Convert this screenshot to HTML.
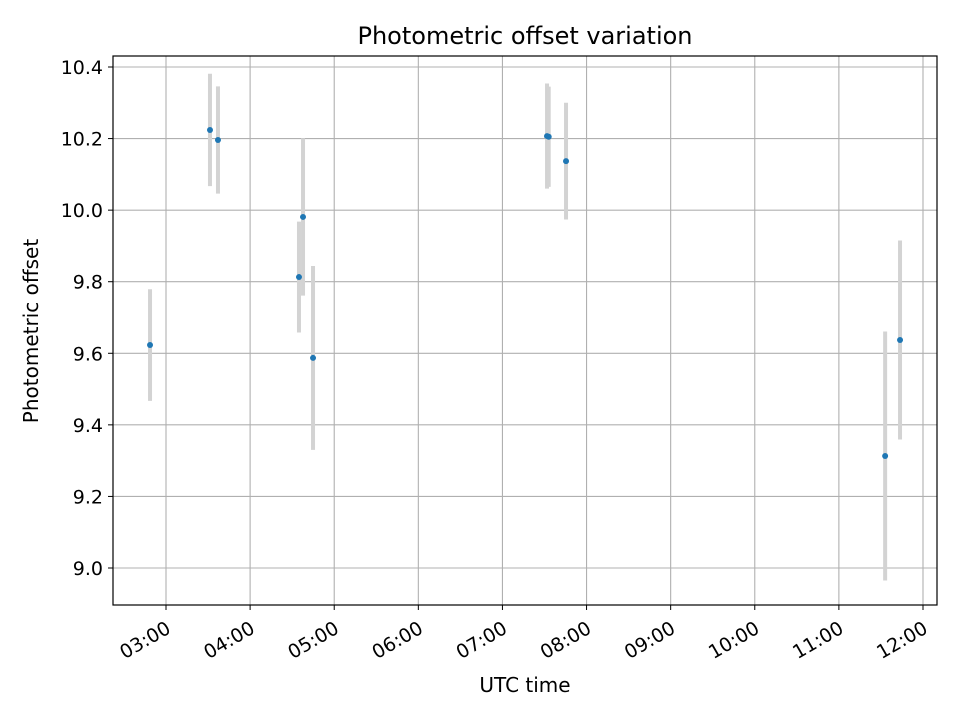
<!DOCTYPE html>
<html><head><meta charset="utf-8"><style>
body{margin:0;background:#fff}
svg{font-family:"DejaVu Sans","Liberation Sans",sans-serif}
</style></head><body>
<svg id="chart" width="960" height="720" viewBox="0 0 960 720">
<rect width="960" height="720" fill="#fff"/>
<g id="grid"></g><g id="errs"></g><g id="pts"></g><g id="axes"></g>
<rect x="113" y="56" width="824" height="549" fill="none" stroke="#000" stroke-width="1.2"/>
<text x="525" y="44" text-anchor="middle" font-size="24">Photometric offset variation</text>
<text x="525" y="692" text-anchor="middle" font-size="20">UTC time</text>
<text transform="translate(38,331) rotate(-90)" text-anchor="middle" font-size="20">Photometric offset</text>
</svg>
<script>
const times=[2.81,3.523,3.618,4.581,4.629,4.748,7.53,7.55,7.756,11.55,11.727];
const offsets=[9.623,10.224,10.196,9.813,9.981,9.587,10.207,10.205,10.137,9.313,9.637];
const errors=[0.156,0.157,0.15,0.155,0.22,0.257,0.147,0.14,0.163,0.348,0.278];
const yTicks=[9.0,9.2,9.4,9.6,9.8,10.0,10.2,10.4];
const xTicks=[3,4,5,6,7,8,9,10,11,12];
const xTickLabels=["03:00","04:00","05:00","06:00","07:00","08:00","09:00","10:00","11:00","12:00"];
const L=113,R=937,T=56,B=605;
function xs(h){return 166+(h-3)*84.11;}
function ys(v){return 568-(v-9.0)*357.86;}
const NS="http://www.w3.org/2000/svg";
function mk(tag,attrs,parent){const e=document.createElementNS(NS,tag);for(const k in attrs)e.setAttribute(k,attrs[k]);document.getElementById(parent).appendChild(e);return e;}
yTicks.forEach(v=>{const y=ys(v);
const g=mk('line',{x1:L,x2:R,y1:y,y2:y,stroke:'#b0b0b0','stroke-width':1.1},'grid');


const t=mk('line',{x1:L-5,x2:L,y1:y,y2:y,stroke:'#000'},'axes');


const l=mk('text',{x:L-10,y:y+7,'text-anchor':'end','font-size':19},'axes');l.textContent=v.toFixed(1);


});
xTicks.forEach((h,i)=>{const x=xs(h);
const g=mk('line',{x1:x,x2:x,y1:T,y2:B,stroke:'#b0b0b0','stroke-width':1.1},'grid');


const t=mk('line',{x1:x,x2:x,y1:B,y2:B+5,stroke:'#000'},'axes');


const l=mk('text',{x:0,y:0,'text-anchor':'end','font-size':19,transform:`translate(${x+6},${B+27}) rotate(-30)`},'axes');l.textContent=xTickLabels[i];


});
times.forEach((h,i)=>{const x=xs(h);
const e=mk('line',{x1:x,x2:x,y1:ys(offsets[i]+errors[i]),y2:ys(offsets[i]-errors[i]),stroke:'#d3d3d3','stroke-width':4},'errs');


const p=mk('circle',{cx:x,cy:ys(offsets[i]),r:3,fill:'#1f77b4'},'pts');


});
</script>
</body></html>
